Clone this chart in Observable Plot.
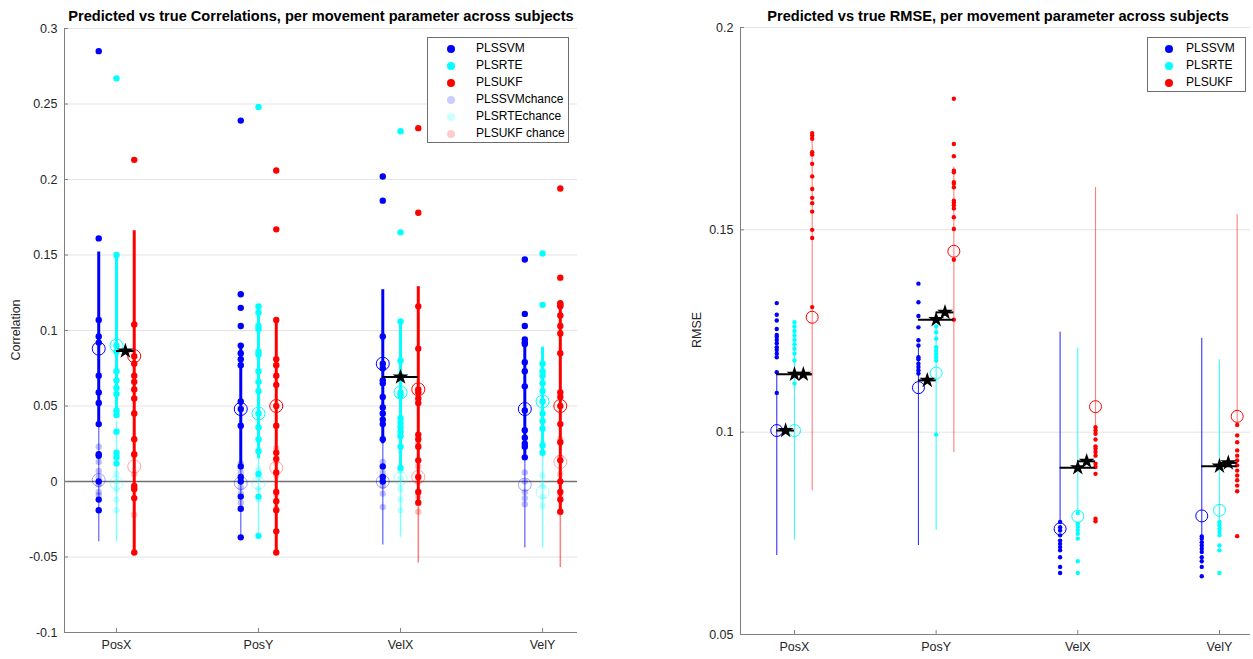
<!DOCTYPE html>
<html><head><meta charset="utf-8">
<script src="https://cdn.jsdelivr.net/npm/d3@7"></script>
<script src="https://cdn.jsdelivr.net/npm/@observablehq/plot@0.6"></script>
<style>
body{margin:0;background:#fff;font-family:"Liberation Sans",Arial,sans-serif;}
#wrap{position:relative;width:1253px;height:659px;overflow:hidden;background:#fff;}
.panel{position:absolute;top:0;}
.title{position:absolute;top:8px;font-weight:bold;font-size:14.6px;color:#000;white-space:nowrap;transform:translateX(-50%);}
.ylab{position:absolute;font-size:12.5px;color:#262626;white-space:nowrap;transform:translate(-50%,-50%) rotate(-90deg);}
.legend{position:absolute;background:#fff;border:1px solid #6e6e6e;font-size:12px;color:#000;box-sizing:border-box;}
.row{position:absolute;height:17px;line-height:17px;white-space:nowrap;}
.mk{position:absolute;width:8px;height:8px;border-radius:50%;top:4.5px;}
</style></head>
<body><div id="wrap"></div>
<script>
const params = ["PosX","PosY","VelX","VelY"];
const methods = ["PLSSVM","PLSRTE","PLSUKF"];
const colors = ["#0000ff","#00ffff","#ff0000"];
const chanceColors = ["#ccccff","#ccffff","#ffcccc"];
const chanceNames = ["PLSSVMchance","PLSRTEchance","PLSUKF chance"];

// ---- Correlation panel data (per method: PosX, PosY, VelX, VelY) ----
const corrSVM = [
  [0.285,0.161,0.107,0.096,0.092,0.070,0.059,0.052,0.038,0.018,0.017,0.0,-0.012,-0.019],
  [0.239,0.124,0.115,0.103,0.090,0.085,0.081,0.077,0.053,0.048,0.037,0.010,0.003,0.0,-0.010,-0.018,-0.037],
  [0.202,0.186,0.096,0.078,0.075,0.067,0.065,0.056,0.049,0.045,0.041,0.038,0.028,0.010,0.003,0.0],
  [0.147,0.111,0.103,0.094,0.092,0.091,0.079,0.073,0.063,0.047,0.034,0.029,0.025,0.023,0.016]
];
const corrRTE = [
  [0.267,0.150,0.090,0.086,0.073,0.067,0.062,0.058,0.047,0.044,0.033,0.019,0.016,0.012],
  [0.248,0.116,0.112,0.103,0.101,0.086,0.084,0.073,0.066,0.060,0.045,0.036,0.028,0.020,0.005,-0.010,-0.036],
  [0.232,0.165,0.106,0.080,0.070,0.059,0.057,0.042,0.039,0.036,0.033,0.030,0.023,0.009],
  [0.151,0.117,0.078,0.073,0.070,0.065,0.060,0.053,0.045,0.040,0.035,0.024,0.019]
];
const corrUKF = [
  [0.213,0.104,0.083,0.078,0.070,0.066,0.061,0.055,0.045,0.028,0.018,-0.003,-0.005,-0.011,-0.047],
  [0.206,0.167,0.107,0.081,0.077,0.070,0.064,0.050,0.037,0.019,0.015,0.006,-0.007,-0.013,-0.019,-0.033,-0.047],
  [0.234,0.178,0.116,0.088,0.061,0.059,0.055,0.052,0.031,0.028,0.023,0.014,0.003,-0.007,-0.014],
  [0.194,0.135,0.118,0.117,0.116,0.110,0.103,0.098,0.085,0.059,0.056,0.050,0.038,0.026,0.014,0.0,-0.007,-0.012,-0.020]
];
const corrChanceSVM = [[0.023,0.013,0.007,0.003,-0.002,-0.007,-0.009],[0.012,0.006,0.002,-0.004,-0.008,-0.014],[0.013,0.006,-0.003,-0.008,-0.017],[0.006,0.0,-0.007,-0.011,-0.015]];
const corrChanceRTE = [[0.005,0.0,-0.005,-0.012,-0.019],[0.008,0.002,-0.005,-0.012],[0.007,0.002,-0.005,-0.012,-0.019],[0.004,-0.003,-0.010,-0.016]];
const corrChanceUKF = [[0.017,0.005,-0.005,-0.022],[0.022,0.013,0.004,-0.008,-0.018],[0.025,0.010,0.0,-0.010,-0.020],[0.028,0.016,0.005,-0.010,-0.020]];
const corrMean = [[0.088,0.048,0.078,0.048],[0.090,0.045,0.059,0.053],[0.083,0.050,0.061,0.050]];
const corrChanceMean = [[0.001,-0.001,0.0,-0.002],[-0.001,-0.001,0.002,-0.007],[0.010,0.009,0.003,0.013]];
const corrRangeLo = [[0.037,0.008,0.025,0.014],[0.044,0.015,0.009,0.018],[-0.047,-0.047,-0.014,-0.020]];
const corrRangeHi = [[0.152,0.091,0.127,0.094],[0.150,0.116,0.106,0.089],[0.166,0.107,0.129,0.118]];
const corrChanceLo = [[-0.040,-0.037,-0.042,-0.044],[-0.040,-0.036,-0.037,-0.044],[-0.022,-0.030,-0.054,-0.057]];
const corrChanceHi = [[0.040,0.035,0.040,0.040],[0.040,0.034,0.040,0.030],[0.040,0.048,0.060,0.083]];
const corrSigParam = [0,2];
const corrSigFrom = [1,0];
const corrSigTo = [2,2];
const corrSigY = [0.0864,0.0692];
const corrTicks = [-0.1,-0.05,0,0.05,0.1,0.15,0.2,0.25,0.3];

// ---- RMSE panel data ----
const rmseSVM = [
  [0.1319,0.129,0.1276,0.1255,0.124,0.1235,0.1228,0.122,0.121,0.1203,0.1194,0.1185,0.1148,0.1097],
  [0.1367,0.1321,0.1287,0.1259,0.1227,0.1214,0.1185,0.118,0.1169,0.1161,0.1153,0.1145],
  [0.0778,0.0765,0.0757,0.0745,0.0732,0.0724,0.0716,0.0708,0.0691,0.0667,0.0652],
  [0.0742,0.0737,0.0728,0.0720,0.0712,0.0704,0.0691,0.0681,0.0667,0.0644]
];
const rmseRTE = [
  [0.1272,0.1261,0.125,0.1239,0.1228,0.1217,0.1206,0.1194,0.1177,0.1120],
  [0.1261,0.1247,0.1231,0.121,0.1202,0.1194,0.1185,0.1177,0.0994],
  [0.080,0.0774,0.0766,0.0758,0.0749,0.0737,0.0681,0.0652],
  [0.0778,0.077,0.0762,0.0754,0.0746,0.072,0.0708,0.0652]
];
const rmseUKF = [
  [0.1739,0.1733,0.1725,0.1692,0.1686,0.1663,0.1632,0.1601,0.1579,0.1566,0.1545,0.150,0.148,0.1309],
  [0.1824,0.1712,0.1682,0.1646,0.1642,0.1618,0.1614,0.1605,0.1572,0.1567,0.1561,0.1553,0.1531,0.1502,0.1426,0.1278],
  [0.1012,0.1004,0.0996,0.0982,0.0965,0.0959,0.0951,0.0942,0.0922,0.0914,0.0897,0.0786,0.078],
  [0.1018,0.0992,0.0975,0.0955,0.0942,0.093,0.0918,0.0905,0.0893,0.0881,0.0868,0.0854,0.0743]
];
const rmseMean = [[0.1004,0.111,0.0761,0.0793],[0.1004,0.1146,0.0792,0.0807],[0.1284,0.1447,0.1063,0.1039]];
const rmseRangeLo = [[0.0695,0.072,0.0775,0.0742],[0.0733,0.0757,0.080,0.0778],[0.0855,0.095,0.101,0.1018]];
const rmseRangeHi = [[0.1148,0.1211,0.1247,0.1232],[0.1272,0.1261,0.1208,0.1179],[0.174,0.1655,0.1605,0.1537]];
const rmseSigParam = [0,0,0,1,1,1,2,2,3,3];
const rmseSigFrom  = [0,1,0,0,1,0,0,1,0,1];
const rmseSigTo    = [2,2,1,2,2,1,2,2,2,2];
const rmseSigY     = [0.1143,0.1143,0.1004,0.1278,0.1296,0.1128,0.0912,0.0928,0.0916,0.0924];
const rmseTicks = [0.05,0.1,0.15,0.2];

const xp = (p, m) => p + 1 + (m - 1) * 0.125;
const fmt = d => String(Math.round(d * 100) / 100);

function build(cfg) {
  const {real, chance, mean, chanceMean, lo, hi, clo, chi, sig, width, height, ml, mr, mt, mb, xDomain, yDomain, ticks, small} = cfg;
  const dots = [], cdots = [], means = [], cmeans = [], ranges = [], cranges = [];
  for (let m = 0; m < 3; m++) for (let p = 0; p < 4; p++) {
    real[m][p].forEach(v => dots.push({x: xp(p, m), y: v, c: colors[m]}));
    if (chance) chance[m][p].forEach(v => cdots.push({x: xp(p, m), y: v, c: colors[m]}));
    means.push({x: xp(p, m), y: mean[m][p], c: colors[m]});
    if (chanceMean) cmeans.push({x: xp(p, m), y: chanceMean[m][p], c: colors[m]});
    ranges.push({x: xp(p, m), y1: lo[m][p], y2: hi[m][p], c: colors[m], o: small ? (m === 2 ? 0.5 : 0.8) : 1});
    if (clo) cranges.push({x: xp(p, m), y1: clo[m][p], y2: chi[m][p], c: colors[m]});
  }
  const sigs = sig.param.map((p, i) => ({
    x1: xp(p, sig.from[i]), x2: xp(p, sig.to[i]),
    xm: (xp(p, sig.from[i]) + xp(p, sig.to[i])) / 2, y: sig.y[i]
  }));
  const pw = width - ml - mr, ph = height - mt - mb;
  const r = small ? 2.2 : 3.2, R = small ? 6 : 6.5;
  return Plot.plot({
    width, height, marginLeft: ml, marginRight: mr, marginTop: mt, marginBottom: mb,
    x: {domain: xDomain},
    y: {domain: yDomain},
    color: {type: "identity"},
    style: {fontFamily: "Liberation Sans, Arial, sans-serif", fontSize: "12.5px", color: "#262626", background: "transparent"},
    marks: [
      Plot.ruleY(ticks, {stroke: "#e3e3e3", strokeWidth: 1}),
      small ? null : Plot.ruleY([0], {stroke: "#707070", strokeWidth: 1.6}),
      Plot.ruleX([xDomain[0]], {stroke: "#808080"}),
      Plot.ruleY([yDomain[0]], {stroke: "#808080"}),
      Plot.tickY(ticks, {y: d => d, stroke: "#808080", insetRight: pw - 4}),
      Plot.tickX([1, 2, 3, 4], {x: d => d, stroke: "#808080", insetTop: ph - 4}),
      Plot.ruleX(cranges, {x: "x", y1: "y1", y2: "y2", stroke: "c", strokeOpacity: 0.5, strokeWidth: 1.5}),
      Plot.dot(cdots, {x: "x", y: "y", r, fill: "c", fillOpacity: 0.25}),
      Plot.ruleX(ranges, {x: "x", y1: "y1", y2: "y2", stroke: "c", strokeOpacity: "o", strokeWidth: small ? 1.1 : 3}),
      Plot.dot(dots, {x: "x", y: "y", r, fill: "c"}),
      Plot.dot(cmeans, {x: "x", y: "y", r: R, stroke: "c", strokeOpacity: 0.35, fill: "none", strokeWidth: 1}),
      Plot.dot(means, {x: "x", y: "y", r: R, stroke: "c", fill: "none", strokeWidth: 1}),
      Plot.ruleY(sigs, {y: "y", x1: "x1", x2: "x2", stroke: "#000", strokeWidth: 2}),
      Plot.dot(sigs, {x: "xm", y: "y", symbol: "star", fill: "#000", r: 5}),
      Plot.axisY({ticks, tickSize: 0, tickPadding: 7, tickFormat: fmt, label: null}),
      Plot.axisX({ticks: [1, 2, 3, 4], tickSize: 0, tickPadding: 8, tickFormat: i => params[i - 1], label: null})
    ].filter(Boolean)
  });
}

const wrap = document.getElementById("wrap");
function addPanel(svg, left) {
  const d = document.createElement("div");
  d.className = "panel"; d.style.left = left + "px";
  d.appendChild(svg); wrap.appendChild(d);
}
addPanel(build({
  real: [corrSVM, corrRTE, corrUKF], chance: [corrChanceSVM, corrChanceRTE, corrChanceUKF],
  mean: corrMean, chanceMean: corrChanceMean, lo: corrRangeLo, hi: corrRangeHi, clo: corrChanceLo, chi: corrChanceHi,
  sig: {param: corrSigParam, from: corrSigFrom, to: corrSigTo, y: corrSigY},
  width: 640, height: 659, ml: 64, mr: 63, mt: 28, mb: 27,
  xDomain: [0.634, 4.246], yDomain: [-0.1, 0.3], ticks: corrTicks, small: false
}), 0);
addPanel(build({
  real: [rmseSVM, rmseRTE, rmseUKF], chance: null, mean: rmseMean, chanceMean: null,
  lo: rmseRangeLo, hi: rmseRangeHi, clo: null, chi: null,
  sig: {param: rmseSigParam, from: rmseSigFrom, to: rmseSigTo, y: rmseSigY},
  width: 573, height: 659, ml: 60, mr: 3, mt: 27, mb: 25,
  xDomain: [0.619, 4.219], yDomain: [0.05, 0.2], ticks: rmseTicks, small: true
}), 680);

function addText(cls, text, x, y) {
  const d = document.createElement("div");
  d.className = cls; d.textContent = text; d.style.left = x + "px";
  if (y != null) d.style.top = y + "px";
  wrap.appendChild(d);
}
addText("title", "Predicted vs true Correlations, per movement parameter across subjects", 321);
addText("title", "Predicted vs true RMSE, per movement parameter across subjects", 998);
addText("ylab", "Correlation", 16, 330);
addText("ylab", "RMSE", 697, 330);

function legend(left, top, w, items, dotX, textX) {
  const box = document.createElement("div");
  box.className = "legend";
  Object.assign(box.style, {left: left + "px", top: top + "px", width: w + "px", height: (items.length * 17 + 4) + "px"});
  items.forEach((it, i) => {
    const row = document.createElement("div");
    row.className = "row"; row.style.top = (2 + i * 17) + "px"; row.style.left = "0px"; row.style.width = "100%";
    const mk = document.createElement("span");
    mk.className = "mk"; mk.style.background = it.c; mk.style.left = (dotX - 4) + "px";
    const tx = document.createElement("span");
    tx.style.position = "absolute"; tx.style.left = textX + "px"; tx.textContent = it.n;
    row.appendChild(mk); row.appendChild(tx); box.appendChild(row);
  });
  wrap.appendChild(box);
}
legend(427, 37, 142, methods.map((n, i) => ({n, c: colors[i]})).concat(chanceNames.map((n, i) => ({n, c: chanceColors[i]}))), 23, 48);
legend(1147, 37, 99, methods.map((n, i) => ({n, c: colors[i]})), 21, 38);
</script></body></html>
